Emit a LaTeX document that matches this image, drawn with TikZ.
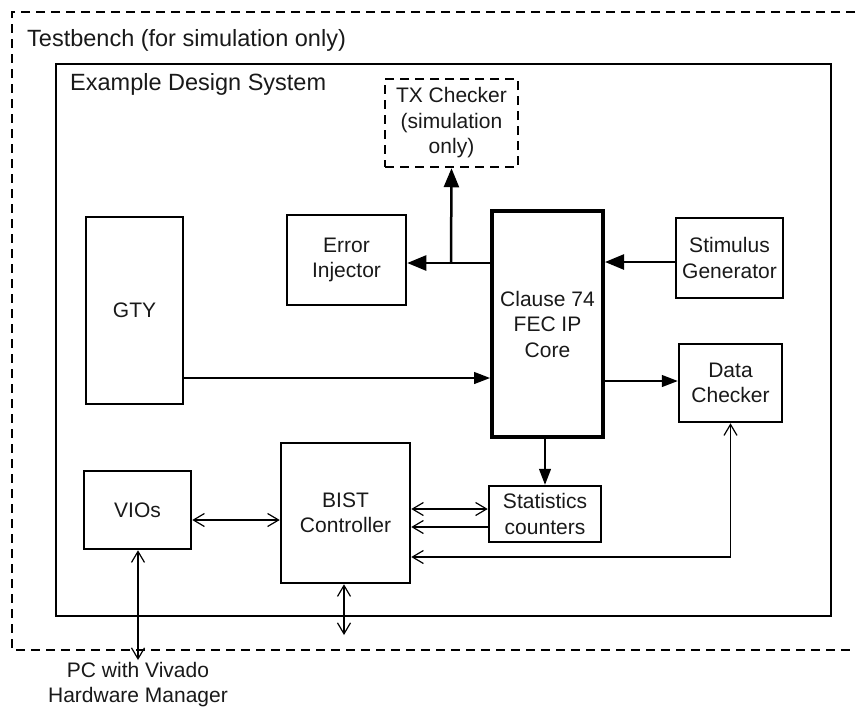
\documentclass[tikz,border=0pt]{standalone}
\usepackage{fontspec}
\setmainfont{Liberation Sans}
\usetikzlibrary{arrows.meta}
\begin{document}
\begin{tikzpicture}[x=1pt,y=-1pt,
  box/.style={draw, line width=2.5pt, inner sep=0pt, align=center, text=black!90, font=\fontsize{21}{25.5}\selectfont},
  dbox/.style={box, dashed, dash pattern=on 9pt off 6pt},
  heavy/.style={line width=2.5pt, -{Triangle[length=19pt,width=15pt]}},
  thinfill/.style={line width=1.3pt, -{Triangle[length=16pt,width=12pt]}},
  openend/.style={line width=1.2pt, -{Straight Barb[length=11pt,width=13pt]}},
  openboth/.style={line width=1.2pt, {Straight Barb[length=11pt,width=13pt]}-{Straight Barb[length=11pt,width=13pt]}},
  lbl/.style={inner sep=0pt, anchor=west, text=black!90, font=\fontsize{23.5}{28}\selectfont}]
\path[use as bounding box] (0,0) rectangle (856,710);
\begin{scope}
\clip (0,0) rectangle (856,710);
\draw[line width=2.5pt, dash pattern=on 9pt off 6pt] (870,12) -- (12,12) -- (12,650) -- (870,650);
\end{scope}
\node[lbl] (tb) at (27,40) {Testbench (for simulation only)};
\draw[line width=2.5pt] (56,64) rectangle (831,616);
\node[lbl] (eds) at (70,84) {Example Design System};

\node[box, minimum width=97pt, minimum height=187pt] (gty) at (134.5,310.5) {GTY};
\node[box, minimum width=119pt, minimum height=90pt] (err) at (346.5,260) {Error\\Injector};
\node[dbox, minimum width=133pt, minimum height=88pt] (tx) at (451.5,123) {TX Checker\\(simulation\\only)};
\node[box, line width=4pt, minimum width=111pt, minimum height=226pt] (fec) at (547.5,324) {Clause 74\\FEC IP\\Core};
\node[box, minimum width=107pt, minimum height=80pt] (stim) at (729.5,258) {Stimulus\\Generator};
\node[box, minimum width=103pt, minimum height=78pt] (data) at (730.5,383) {Data\\Checker};
\node[box, minimum width=112pt, minimum height=56pt] (stats) at (545,514) {Statistics\\counters};
\node[box, minimum width=129pt, minimum height=140pt] (bist) at (345.5,513) {BIST\\Controller};
\node[box, minimum width=107pt, minimum height=78pt] (vio) at (137.5,510) {VIOs};
\node[inner sep=0pt, align=center, text=black!90, font=\fontsize{21}{25}\selectfont] (pc) at (138,685) {PC with Vivado\\Hardware Manager};

\coordinate (j) at (451,263);
\draw[heavy] (fec.west |- j) -- (err.east |- j);
\draw[heavy] (j) -- (tx.south);
\draw[heavy] (stim.west |- 0,262) -- (fec.east |- 0,262);
\draw[thinfill] (gty.east |- 0,378) -- (fec.west |- 0,378);
\draw[thinfill] (fec.east |- 0,381) -- (data.west |- 0,381);
\draw[thinfill] (stats.north |- fec.south) -- (stats.north);
\draw[openboth] (vio.east |- 0,520) -- (bist.west |- 0,520);
\draw[openboth] (bist.east |- 0,509) -- (stats.west |- 0,509);
\draw[openend] (stats.west |- 0,527) -- (bist.east |- 0,527);
\draw[openboth] (bist.east |- 0,557) -| (data.south);
\coordinate (bistend) at (344,635);
\draw[openboth] (bist.south -| bistend) -- (bistend);
\coordinate (pcend) at (138,660);
\draw[openboth] (vio.south -| pcend) -- (pcend);
\end{tikzpicture}
\end{document}
